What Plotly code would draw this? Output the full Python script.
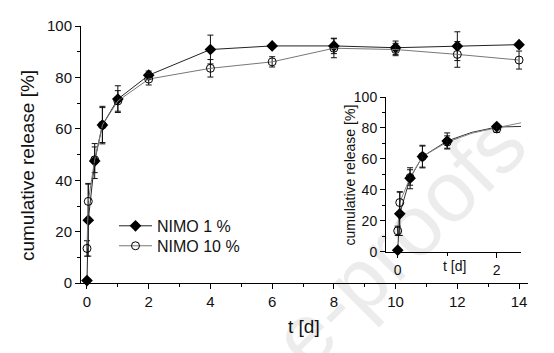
import plotly.graph_objects as go

# ---------------- data ----------------
t_main = [0, 0.042, 0.25, 0.5, 1, 2, 4, 6, 8, 10, 12, 14]
nimo1 = [1.0, 24.5, 47.5, 61.5, 71.6, 80.9, 90.9, 92.3, 92.3, 91.6, 92.2, 92.8]
nimo1_err = [0.0, 14.0, 6.8, 7.3, 5.2, 1.6, 5.6, 0.8, 3.0, 2.6, 5.6, 0.8]
nimo10 = [13.5, 31.8, 48.0, 61.5, 70.9, 79.4, 83.6, 86.1, 91.4, 90.9, 89.0, 86.8]
nimo10_err = [3.0, 7.0, 5.0, 6.8, 4.0, 2.3, 3.4, 2.0, 3.7, 2.4, 5.0, 3.5]

# inset: first days only + fitted release curves
n_inset = 6
fit_t = [0, 0.042, 0.25, 0.5, 1.0, 1.5, 2.0, 2.5]
fit_1 = [1.0, 24.5, 47.5, 61.5, 71.6, 77.2, 80.6, 81.0]
fit_10 = [13.5, 31.8, 48.0, 61.5, 70.9, 76.6, 80.2, 83.4]

x_ticks_main = [0, 2, 4, 6, 8, 10, 12, 14]
y_ticks = [0, 20, 40, 60, 80, 100]
x_ticks_inset = [0, 2]

labels = ["NIMO 1 %", "NIMO 10 %"]
x_title = "t [d]"
y_title = "cumulative release [%]"
watermark = "e-proofs"

# ---------------- figure ----------------
W, H = 554, 353
FONT = "Liberation Sans, Arial, sans-serif"

def px(x):
    return x / W

def py(y):
    return 1 - y / H

fig = go.Figure()

err_style = dict(type="data", thickness=1, width=3, color="#111")
D_SIZE, C_SIZE = 9, 8

fig.add_trace(go.Scatter(
    x=t_main, y=nimo1, name=labels[0], mode="lines+markers", legend="legend",
    line=dict(color="#222", width=1),
    marker=dict(symbol="diamond", size=D_SIZE, color="black"),
    error_y=dict(array=nimo1_err, **err_style),
    cliponaxis=False, xaxis="x", yaxis="y"))
fig.add_trace(go.Scatter(
    x=t_main, y=nimo10, name=labels[1], mode="lines+markers", legend="legend2",
    line=dict(color="#777", width=1),
    marker=dict(symbol="circle-open", size=C_SIZE, color="black", line=dict(width=1, color="black")),
    error_y=dict(array=nimo10_err, **err_style),
    cliponaxis=False, xaxis="x", yaxis="y"))

# inset fitted curves
fig.add_trace(go.Scatter(x=fit_t, y=fit_1, mode="lines", showlegend=False,
                         line=dict(color="#333", width=1), xaxis="x2", yaxis="y2"))
fig.add_trace(go.Scatter(x=fit_t, y=fit_10, mode="lines", showlegend=False,
                         line=dict(color="#888", width=1), xaxis="x2", yaxis="y2"))
# inset data points
fig.add_trace(go.Scatter(
    x=t_main[:n_inset], y=nimo1[:n_inset], mode="markers", showlegend=False,
    marker=dict(symbol="diamond", size=D_SIZE, color="black"),
    error_y=dict(array=nimo1_err[:n_inset], **err_style),
    cliponaxis=False, xaxis="x2", yaxis="y2"))
fig.add_trace(go.Scatter(
    x=t_main[:n_inset], y=nimo10[:n_inset], mode="markers", showlegend=False,
    marker=dict(symbol="circle-open", size=C_SIZE, color="black", line=dict(width=1, color="black")),
    error_y=dict(array=nimo10_err[:n_inset], **err_style),
    cliponaxis=False, xaxis="x2", yaxis="y2"))

axis_common = dict(showline=True, linecolor="black", linewidth=1, showgrid=False,
                   zeroline=False, ticks="outside", tickcolor="black", ticklen=5, tickwidth=1,
                   mirror=False)

legend_common = dict(xanchor="left", yanchor="top", bgcolor="rgba(0,0,0,0)",
                     font=dict(size=16, family=FONT, color="#111"), itemwidth=33)

fig.update_layout(
    width=W, height=H, margin=dict(l=0, r=0, t=0, b=0),
    paper_bgcolor="white", plot_bgcolor="rgba(0,0,0,0)",
    font=dict(family=FONT, color="#111"),
    showlegend=True,
    legend=dict(x=px(114), y=py(210), **legend_common),
    legend2=dict(x=px(114), y=py(231), **legend_common),
    xaxis=dict(domain=[px(81), px(528)], range=[-0.194, 14.29], anchor="y",
               tickvals=x_ticks_main, tickfont=dict(size=15),
               minor=dict(ticks="outside", dtick=1, ticklen=3, tickcolor="black"),
               **axis_common),
    yaxis=dict(domain=[py(288), py(18)], range=[0, 100], anchor="x",
               tickvals=y_ticks, tickfont=dict(size=15),
               minor=dict(ticks="outside", dtick=10, ticklen=3, tickcolor="black"),
               **axis_common),
    xaxis2=dict(domain=[px(386), px(521)], range=[-0.236, 2.49], anchor="y2",
                tickvals=x_ticks_inset, tickfont=dict(size=14),
                minor=dict(ticks="outside", dtick=1, ticklen=3, tickcolor="black"),
                **axis_common),
    yaxis2=dict(domain=[py(255), py(92.5)], range=[0, 100], anchor="x2",
                tickvals=y_ticks, tickfont=dict(size=14),
                minor=dict(ticks="outside", dtick=10, ticklen=3, tickcolor="black"),
                **axis_common),
)

ann = dict(xref="paper", yref="paper", showarrow=False, xanchor="center", yanchor="middle")
fig.add_annotation(text=x_title, x=px(304), y=py(334),
                   font=dict(size=19, family=FONT, color="#111"), **ann)
fig.add_annotation(text=y_title, x=px(27), y=py(165), textangle=-90,
                   font=dict(size=19, family=FONT, color="#111"), **ann)
fig.add_annotation(text=x_title, x=px(454), y=py(270),
                   font=dict(size=14, family=FONT, color="#111"), **ann)
fig.add_annotation(text=y_title, x=px(350), y=py(175), textangle=-90,
                   font=dict(size=14, family=FONT, color="#111"), **ann)

# faint watermark drawn semi-transparent on top
fig.add_annotation(text=watermark, x=px(399), y=py(243), textangle=-45,
                   font=dict(family=FONT, size=86, color="rgba(0,0,0,0.075)"), **ann)

fig.write_html("out.html")
